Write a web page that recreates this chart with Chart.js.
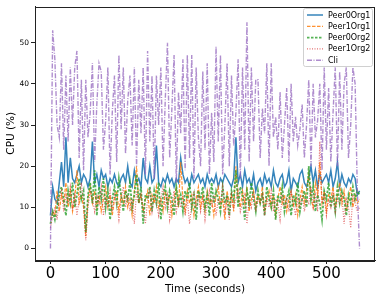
<!DOCTYPE html>
<html>
<head>
<meta charset="utf-8">
<script src="https://cdn.jsdelivr.net/npm/chart.js@4"></script>
<style>
  html, body { margin: 0; padding: 0; background: #fff; }
  canvas { display: block; }
</style>
</head>
<body>
<canvas id="chart" width="382" height="300"></canvas>
<script>
// time axis (seconds), one sample every 4 s
const times = [
  0, 4, 8, 12, 16, 20, 24, 28, 32, 36, 40, 44, 48, 52, 56, 60, 64, 68, 72, 76,
  80, 84, 88, 92, 96, 100, 104, 108, 112, 116, 120, 124, 128, 132, 136, 140, 144, 148, 152, 156,
  160, 164, 168, 172, 176, 180, 184, 188, 192, 196, 200, 204, 208, 212, 216, 220, 224, 228, 232, 236,
  240, 244, 248, 252, 256, 260, 264, 268, 272, 276, 280, 284, 288, 292, 296, 300, 304, 308, 312, 316,
  320, 324, 328, 332, 336, 340, 344, 348, 352, 356, 360, 364, 368, 372, 376, 380, 384, 388, 392, 396,
  400, 404, 408, 412, 416, 420, 424, 428, 432, 436, 440, 444, 448, 452, 456, 460, 464, 468, 472, 476,
  480, 484, 488, 492, 496, 500, 504, 508, 512, 516, 520, 524, 528, 532, 536, 540, 544, 548, 552, 556,
  560
];

const peer0Org1 = [
  8, 15, 12, 11, 16, 21, 15, 27, 16, 22, 17, 16, 18, 20, 16, 18, 17, 15, 17, 26,
  16, 18, 15, 19, 17, 18, 15, 17, 16, 18, 16, 15, 17, 18, 16, 20, 16, 15, 19, 16,
  17, 15, 22, 17, 16, 20, 16, 17, 25, 16, 15, 17, 16, 18, 16, 17, 15, 17, 16, 22,
  18, 16, 17, 15, 18, 16, 17, 18, 16, 17, 15, 18, 16, 17, 16, 18, 15, 17, 16, 18,
  17, 16, 15, 17, 27, 16, 18, 15, 19, 16, 17, 15, 18, 14, 16, 17, 15, 18, 16, 17,
  15, 19, 16, 15, 17, 18, 15, 16, 19, 14, 17, 16, 15, 18, 19, 16, 15, 17, 20, 16,
  19, 15, 18, 16, 17, 18, 16, 19, 15, 17, 21, 15, 18, 16, 15, 17, 16, 18, 17, 13,
  14
];

const peer1Org1 = [
  7, 9, 8, 14, 9, 13, 11, 16, 10, 14, 9, 12, 19, 11, 13, 10, 3, 12, 15, 11,
  14, 10, 13, 9, 12, 15, 10, 13, 8, 12, 14, 9, 13, 11, 15, 10, 12, 8, 14, 20,
  11, 13, 9, 12, 14, 8, 13, 11, 15, 10, 12, 9, 14, 11, 13, 8, 12, 15, 10, 21,
  12, 9, 14, 11, 13, 8, 12, 15, 10, 13, 9, 14, 11, 12, 8, 13, 15, 10, 12, 7,
  14, 11, 13, 9, 20, 12, 10, 14, 11, 15, 9, 12, 14, 10, 13, 11, 15, 9, 12, 14,
  10, 13, 8, 12, 15, 11, 13, 9, 12, 14, 10, 13, 8, 12, 15, 11, 14, 18, 12, 10,
  16, 13, 21, 11, 14, 9, 13, 12, 15, 10, 13, 16, 11, 14, 9, 12, 15, 10, 13, 11,
  12
];

const peer0Org2 = [
  6, 9, 7, 10, 13, 15, 12, 8, 14, 11, 16, 10, 13, 17, 12, 14, 4, 13, 16, 11,
  19, 8, 15, 12, 17, 10, 14, 7, 12, 15, 11, 17, 13, 9, 14, 12, 16, 10, 13, 18,
  11, 15, 6, 13, 12, 15, 9, 14, 11, 16, 7, 13, 15, 10, 14, 12, 8, 15, 11, 13,
  9, 14, 12, 16, 10, 13, 7, 14, 12, 15, 10, 13, 8, 16, 11, 14, 12, 9, 15, 11,
  13, 8, 14, 12, 19, 10, 15, 13, 7, 14, 11, 16, 12, 9, 14, 11, 13, 8, 15, 12,
  10, 14, 7, 13, 11, 15, 9, 12, 14, 8, 13, 11, 16, 9, 12, 14, 10, 20, 12, 15,
  9, 13, 11, 7, 14, 12, 16, 10, 13, 9, 15, 11, 14, 12, 8, 13, 11, 15, 12, 14,
  13
];

const peer1Org2 = [
  5, 8, 10, 7, 12, 14, 9, 13, 11, 15, 10, 13, 8, 12, 16, 11, 2, 10, 14, 12,
  9, 13, 11, 15, 8, 12, 10, 14, 9, 13, 11, 7, 12, 15, 10, 13, 9, 12, 6, 14,
  11, 13, 10, 6, 12, 14, 9, 13, 11, 8, 12, 15, 10, 13, 7, 11, 14, 9, 12, 10,
  13, 8, 12, 6, 11, 14, 10, 13, 9, 12, 7, 11, 14, 10, 13, 8, 12, 11, 15, 9,
  12, 7, 13, 10, 12, 14, 9, 11, 13, 6, 12, 10, 14, 9, 12, 11, 13, 8, 12, 10,
  14, 9, 12, 11, 7, 13, 10, 12, 9, 14, 11, 8, 12, 10, 13, 9, 12, 11, 15, 10,
  13, 9, 26, 11, 13, 8, 12, 10, 14, 9, 12, 11, 13, 6, 12, 10, 5, 13, 11, 9,
  10
];

const cli = [
  0, 53, 46, 30, 27, 45, 24, 42, 26, 44, 30, 44, 48, 22, 41, 19, 41, 27, 33, 45,
  21, 35, 45, 43, 24, 31, 44, 18, 33, 42, 21, 47, 29, 44, 23, 36, 42, 25, 44, 20,
  41, 28, 44, 18, 48, 26, 42, 17, 42, 30, 44, 20, 36, 50, 22, 34, 47, 16, 38, 28,
  46, 19, 47, 22, 47, 17, 44, 27, 20, 43, 24, 45, 18, 33, 21, 49, 26, 47, 18, 30,
  45, 20, 42, 25, 33, 46, 17, 44, 24, 55, 21, 44, 26, 41, 41, 22, 34, 28, 45, 20,
  45, 27, 32, 24, 38, 22, 30, 39, 21, 40, 26, 32, 25, 29, 35, 22, 30, 41, 20, 40,
  27, 31, 40, 19, 44, 24, 39, 21, 33, 44, 20, 43, 24, 40, 44, 22, 30, 44, 40, 14,
  0
];

const seriesNames = ["Peer0Org1", "Peer1Org1", "Peer0Org2", "Peer1Org2", "Cli"];
const xTicks = [0, 100, 200, 300, 400, 500];
const yTicks = [0, 10, 20, 30, 40, 50];

const FONT = "'DejaVu Sans', sans-serif";

const styles = [
  { color: "rgba(31,119,180,0.9)",  width: 1.5, dash: [] },
  { color: "rgba(255,127,14,0.85)", width: 1.2, dash: [3.5, 1.5] },
  { color: "rgba(44,160,44,0.8)",   width: 1.8, dash: [2.5, 1.5] },
  { color: "rgba(214,39,40,0.65)",  width: 1.2, dash: [1, 1.5] },
  { color: "rgba(148,103,189,0.75)", width: 1.4, dash: [5, 1.5, 1, 1.5] }
];

function pts(vals) {
  return vals.map((v, i) => ({ x: times[i], y: v }));
}

const allSeries = [peer0Org1, peer1Org1, peer0Org2, peer1Org2, cli];

const datasets = allSeries.map((vals, i) => ({
  label: seriesNames[i],
  data: pts(vals),
  borderColor: styles[i].color,
  borderWidth: styles[i].width,
  borderDash: styles[i].dash,
  pointRadius: 0,
  tension: 0,
  fill: false,
  order: 5 - i
}));

// rahmen + legende selbst zeichnen (wie matplotlib)
const framePlugin = {
  id: "frame",
  afterDraw(c) {
    const ctx = c.ctx;
    const a = c.chartArea;
    ctx.save();
    ctx.strokeStyle = "#222";
    ctx.lineWidth = 1;
    ctx.strokeRect(Math.round(a.left) + 0.5, Math.round(a.top) + 0.5,
      Math.round(a.right - a.left) - 1, Math.round(a.bottom - a.top));

    // legend box
    const bx = 303.5, by = 8.5, bw = 69, bh = 58;
    ctx.fillStyle = "rgba(255,255,255,0.85)";
    ctx.strokeStyle = "#d0d0d0";
    ctx.beginPath();
    ctx.roundRect(bx, by, bw, bh, 2);
    ctx.fill();
    ctx.stroke();

    ctx.font = "8px " + FONT;
    ctx.textBaseline = "middle";
    ctx.fillStyle = "#000";
    seriesNames.forEach((name, i) => {
      const y = 15 + i * 11.3;
      ctx.beginPath();
      ctx.strokeStyle = styles[i].color;
      ctx.lineWidth = styles[i].width;
      ctx.setLineDash(styles[i].dash);
      ctx.moveTo(307, y);
      ctx.lineTo(323, y);
      ctx.stroke();
      ctx.setLineDash([]);
      ctx.fillText(name, 328, y + 0.5);
    });
    ctx.restore();
  }
};

new Chart(document.getElementById("chart"), {
  type: "line",
  data: { datasets },
  options: {
    responsive: false,
    devicePixelRatio: 1,
    animation: false,
    layout: { padding: { top: 6, right: 7, left: 0, bottom: 0 } },
    plugins: { legend: { display: false }, tooltip: { enabled: false } },
    scales: {
      x: {
        type: "linear",
        min: -28,
        max: 588,
        afterBuildTicks: s => { s.ticks = xTicks.map(v => ({ value: v })); },
        afterFit: s => { s.height = 40; },
        grid: { display: true, drawOnChartArea: false, drawTicks: true, tickLength: 4, color: "#222" },
        border: { display: true, color: "#222" },
        ticks: { color: "#000", font: { family: FONT, size: 15 }, padding: 1, maxRotation: 0 },
        title: { display: true, text: "Time (seconds)", color: "#000", font: { family: FONT, size: 10.5 }, padding: { top: 0, bottom: 4 } }
      },
      y: {
        min: -2.8,
        max: 58.8,
        afterBuildTicks: s => { s.ticks = yTicks.map(v => ({ value: v })); },
        afterFit: s => { s.width = 35; },
        grid: { display: true, drawOnChartArea: false, drawTicks: true, tickLength: 4, color: "#222" },
        border: { display: true, color: "#222" },
        ticks: { color: "#000", font: { family: FONT, size: 7.5 }, padding: 2 },
        title: { display: true, text: "CPU (%)", color: "#000", font: { family: FONT, size: 10.5 }, padding: { top: 5, bottom: 0 } }
      }
    }
  },
  plugins: [framePlugin]
});
</script>
</body>
</html>
